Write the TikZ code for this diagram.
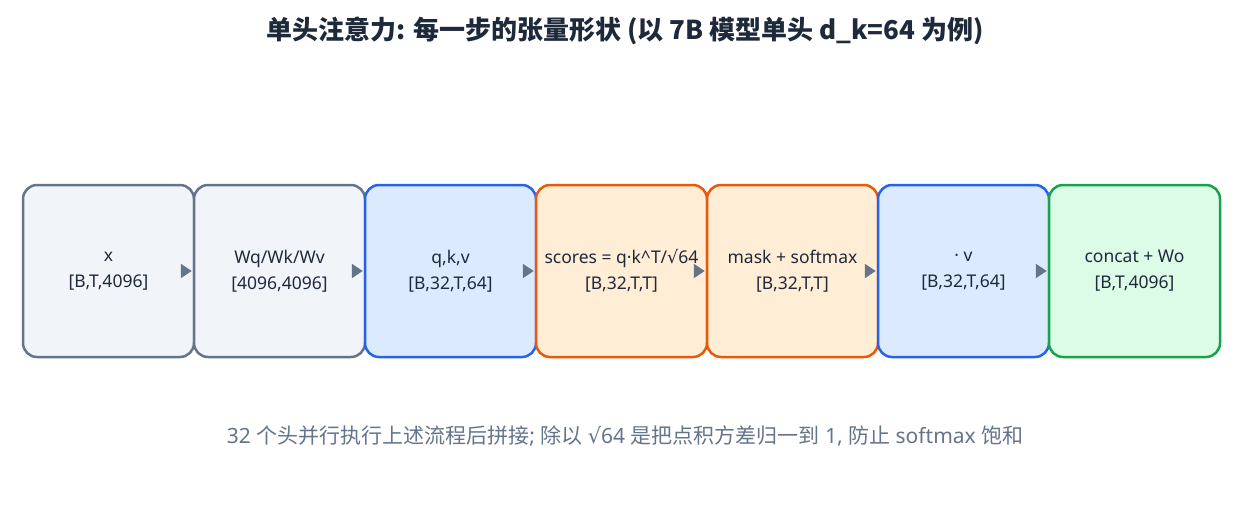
\documentclass[tikz,border=0pt]{standalone}
\usepackage{fontspec}
\setmainfont{Noto Sans}
\newfontfamily\cjk{Noto Sans CJK SC}
\newfontfamily\symf{DejaVu Sans}
\newcommand{\zh}[1]{{\cjk #1}}
\newcommand{\rt}{{\symf √}}
\usetikzlibrary{arrows.meta}
\definecolor{txt}{HTML}{1E293B}
\definecolor{note}{HTML}{64748B}
\definecolor{grayS}{HTML}{64748B}
\definecolor{grayF}{HTML}{F1F5F9}
\definecolor{blueS}{HTML}{2563EB}
\definecolor{blueF}{HTML}{DBEAFE}
\definecolor{orS}{HTML}{EA580C}
\definecolor{orF}{HTML}{FFEDD5}
\definecolor{grS}{HTML}{16A34A}
\definecolor{grF}{HTML}{DCFCE7}
\tikzset{
  stage/.style={rectangle, rounded corners=14pt, line width=2.5pt,
    minimum width=171pt, minimum height=172pt, inner sep=0pt, align=center,
    text=txt, font=\fontsize{17.5}{26}\selectfont},
  graybox/.style={stage, draw=grayS, fill=grayF},
  bluebox/.style={stage, draw=blueS, fill=blueF},
  orbox/.style={stage, draw=orS, fill=orF},
  greenbox/.style={stage, draw=grS, fill=grF},
  arr/.style={draw=grayS, line width=2pt, -{Triangle[length=11pt,width=14pt]}, shorten >=1pt},
}
\begin{document}
\begin{tikzpicture}[x=1pt,y=-1pt]
\path[use as bounding box, fill=white] (0,0) rectangle (1250,515);
\node[font=\cjk\fontsize{26}{30}\selectfont\bfseries, text=txt] (title) at (625,31) {单头注意力: 每一步的张量形状 (以 7B 模型单头 d\_k=64 为例)};
\node[graybox] (n1) at (108.5,271) {x\\{}[B,T,4096]};
\node[graybox] (n2) at (279.5,271) {Wq/Wk/Wv\\{}[4096,4096]};
\node[bluebox] (n3) at (450.5,271) {q,k,v\\{}[B,32,T,64]};
\node[orbox] (n4) at (621.5,271) {scores = q·k\textasciicircum T/\rt64\\{}[B,32,T,T]};
\node[orbox] (n5) at (792.5,271) {mask + softmax\\{}[B,32,T,T]};
\node[bluebox] (n6) at (963.5,271) {· v\\{}[B,32,T,64]};
\node[greenbox] (n7) at (1134.5,271) {concat + Wo\\{}[B,T,4096]};
\foreach \a/\b in {n1/n2,n2/n3,n3/n4,n4/n5,n5/n6,n6/n7}{
  \draw[arr] ([xshift=-12pt]\b.west) -- (\b.west);
}
\node[font=\fontsize{21}{24}\selectfont, text=note] (foot) at (625,436) {32 \zh{个头并行执行上述流程后拼接}; \zh{除以} \rt64 \zh{是把点积方差归一到} 1, \zh{防止} softmax \zh{饱和}};
\end{tikzpicture}
\end{document}
